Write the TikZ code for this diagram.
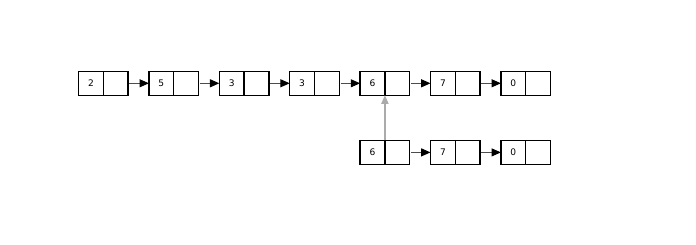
\documentclass[tikz,border=0pt]{standalone}
\usepackage{fontspec}
\setmainfont{DejaVu Sans}
\usetikzlibrary{arrows.meta,positioning}
\begin{document}
\begin{tikzpicture}[x=0.75pt,y=-0.75pt,
  cell/.style={draw=black,line width=1pt,minimum width=18.6pt,minimum height=18pt,inner sep=0pt,outer sep=0pt,font=\fontsize{6.8}{8}\selectfont},
  link/.style={draw=black!70,line width=0.75pt,-{Triangle[length=7pt,width=6pt,color=black]},shorten <=1pt},
  uplink/.style={draw=black!33,line width=0.9pt,-{Triangle[length=6.5pt,width=5.5pt,color=black!33]}}]
\useasboundingbox (0,0) rectangle (696,245);
% top row
\foreach \i/\v in {1/2,2/5,3/3,4/3,5/6,6/7,7/0}{
  \node[cell] (v\i) at ({78.5+70.4*(\i-1)+12.4},83.3) {\v};
  \node[cell,anchor=west] (p\i) at (v\i.east) {};
}
\foreach \i [evaluate=\i as \j using int(\i+1)] in {1,...,6}{
  \draw[link] (p\i.east) -- (v\j.west);
}
% bottom row
\foreach \i/\v in {1/6,2/7,3/0}{
  \node[cell] (w\i) at ({78.5+70.4*(\i+3)+12.4},152.4) {\v};
  \node[cell,anchor=west] (q\i) at (w\i.east) {};
}
\draw[link] (q1.east) -- (w2.west);
\draw[link] (q2.east) -- (w3.west);
\draw[uplink] (w1.north east) -- (v5.south east);
\end{tikzpicture}
\end{document}
